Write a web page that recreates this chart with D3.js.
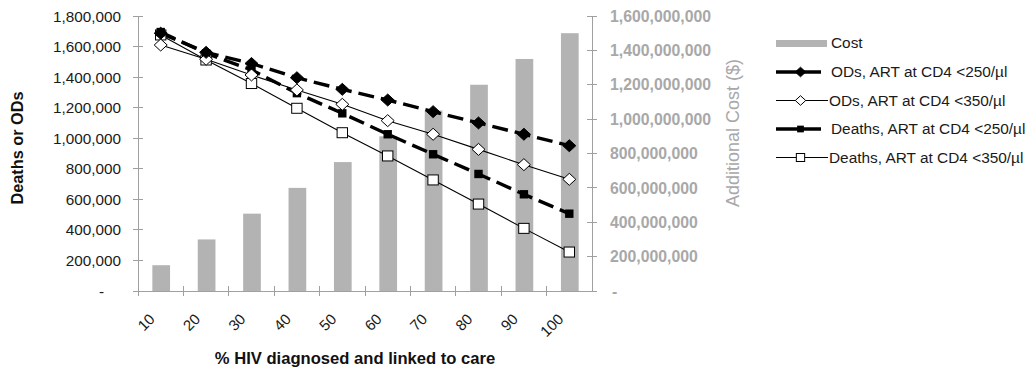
<!DOCTYPE html>
<html>
<head>
<meta charset="utf-8">
<script src="https://cdn.jsdelivr.net/npm/d3@7"></script>
<style>
  html, body { margin: 0; padding: 0; background: #fff; }
  svg { display: block; font-family: "Liberation Sans", Arial, sans-serif; }
</style>
</head>
<body>
<svg id="chart" width="1032" height="376"></svg>
<script>
// ---- data ----
const categories = ["10", "20", "30", "40", "50", "60", "70", "80", "90", "100"];
const costValues = [150e6, 300e6, 450e6, 600e6, 750e6, 900e6, 1050e6, 1200e6, 1350e6, 1500e6];
const odsArt250 = [1687000, 1562000, 1489000, 1396000, 1320000, 1250000, 1174000, 1100000, 1026000, 951000];
const odsArt350 = [1610000, 1517000, 1414000, 1316000, 1222000, 1115000, 1026000, 927000, 827000, 731000];
const deathsArt250 = [1695000, 1556000, 1447000, 1295000, 1163000, 1026000, 895000, 766000, 633000, 506000];
const deathsArt350 = [1676000, 1512000, 1358000, 1196000, 1036000, 884000, 727000, 569000, 410000, 255000];
const leftTicks = [0, 200000, 400000, 600000, 800000, 1000000, 1200000, 1400000, 1600000, 1800000];
const rightTicks = [0, 200e6, 400e6, 600e6, 800e6, 1000e6, 1200e6, 1400e6, 1600e6];
const seriesNames = ["ODs, ART at CD4 <250/\u00b5l", "ODs, ART at CD4 <350/\u00b5l", "Deaths, ART at CD4 <250/\u00b5l", "Deaths, ART at CD4 <350/\u00b5l"];
const costName = "Cost";
const xTitle = "% HIV diagnosed and linked to care";
const yLeftTitle = "Deaths or ODs";
const yRightTitle = "Additional Cost ($)";

// ---- layout ----
const svg = d3.select("#chart");
const X0 = 138, X1 = 592, Y0 = 291, Y1 = 16;
const x = d3.scaleBand().domain(categories).range([X0, X1]).padding(0);
const yL = d3.scaleLinear().domain([0, 1800000]).range([Y0, Y1]);
const yR = d3.scaleLinear().domain([0, 1600e6]).range([Y0, Y1]);
const fmt = d3.format(",");
const axisGray = "#a0a0a0";
const barGray = "#b3b3b3";
const rightGray = "#a8a8a8";

// bars
const barW = x.bandwidth() * 0.39;
svg.append("g").selectAll("rect").data(costValues).join("rect")
  .attr("x", (d, i) => x(categories[i]) + x.bandwidth() / 2 - barW / 2 + 0.5)
  .attr("y", d => yR(d))
  .attr("width", barW)
  .attr("height", d => Y0 - yR(d))
  .attr("fill", barGray);

// axes lines
const ax = svg.append("g").attr("stroke", axisGray).attr("stroke-width", 1).attr("shape-rendering", "crispEdges");
ax.append("line").attr("x1", X0).attr("x2", X0).attr("y1", Y1).attr("y2", Y0);
ax.append("line").attr("x1", X1).attr("x2", X1).attr("y1", Y1).attr("y2", Y0);
ax.append("line").attr("x1", X0).attr("x2", X1).attr("y1", Y0).attr("y2", Y0);
leftTicks.forEach(t => ax.append("line").attr("x1", X0 - 5).attr("x2", X0 + 5).attr("y1", yL(t)).attr("y2", yL(t)));
rightTicks.forEach(t => ax.append("line").attr("x1", X1 - 5).attr("x2", X1 + 5).attr("y1", yR(t)).attr("y2", yR(t)));
categories.forEach(c => ax.append("line").attr("x1", x(c)).attr("x2", x(c)).attr("y1", Y0 - 5).attr("y2", Y0 + 5));

// left tick labels
svg.append("g").selectAll("text").data(leftTicks).join("text")
  .attr("x", d => d === 0 ? 104 : 121)
  .attr("y", d => yL(d))
  .attr("dy", "0.36em")
  .attr("text-anchor", "end")
  .attr("font-size", 15.3)
  .attr("fill", "#1a1a1a")
  .text(d => d === 0 ? "-" : fmt(d));

// right tick labels
svg.append("g").selectAll("text").data(rightTicks).join("text")
  .attr("x", d => d === 0 ? 612 : 610)
  .attr("y", d => yR(d))
  .attr("dy", "0.36em")
  .attr("text-anchor", "start")
  .attr("font-size", 15.8)
  .attr("font-weight", "bold")
  .attr("fill", rightGray)
  .text(d => d === 0 ? "-" : fmt(d));

// x tick labels
svg.append("g").selectAll("text").data(categories).join("text")
  .attr("transform", d => `translate(${x(d) + x.bandwidth() / 2 - 5},320) rotate(-45)`)
  .attr("text-anchor", "end")
  .attr("font-size", 15)
  .attr("fill", "#1a1a1a")
  .text(d => d);

// titles
svg.append("text").attr("x", 355).attr("y", 364).attr("text-anchor", "middle")
  .attr("font-size", 16.6).attr("font-weight", "bold").attr("fill", "#111").text(xTitle);
svg.append("text").attr("transform", "translate(23,148) rotate(-90)").attr("text-anchor", "middle")
  .attr("font-size", 16.3).attr("font-weight", "bold").attr("fill", "#111").text(yLeftTitle);
svg.append("text").attr("transform", "translate(739,133) rotate(-90)").attr("text-anchor", "middle")
  .attr("font-size", 18).attr("fill", rightGray).text(yRightTitle);

// markers
function marker(g, type, cx, cy, s) {
  s = s || 1;
  if (type === "diamond" || type === "odiamond") {
    const hw = 6.5 * s, hh = 6 * s;
    g.append("path").attr("d", `M${cx},${cy - hh}L${cx + hw},${cy}L${cx},${cy + hh}L${cx - hw},${cy}Z`)
      .attr("fill", type === "diamond" ? "#000" : "#fff").attr("stroke", "#000").attr("stroke-width", 1);
  } else if (type === "square") {
    const h = 4.2 * s;
    g.append("rect").attr("x", cx - h).attr("y", cy - h).attr("width", 2 * h).attr("height", 2 * h)
      .attr("fill", "#000");
  } else {
    const hw = 5.2 * s, hh = 5 * s;
    g.append("rect").attr("x", cx - hw).attr("y", cy - hh).attr("width", 2 * hw).attr("height", 2 * hh)
      .attr("fill", "#fff").attr("stroke", "#000").attr("stroke-width", 1);
  }
}

const series = [
  { name: seriesNames[0], values: odsArt250, marker: "diamond", dashed: true },
  { name: seriesNames[1], values: odsArt350, marker: "odiamond", dashed: false },
  { name: seriesNames[2], values: deathsArt250, marker: "square", dashed: true },
  { name: seriesNames[3], values: deathsArt350, marker: "osquare", dashed: false }
];
const line = d3.line().x((d, i) => x(categories[i]) + x.bandwidth() / 2).y(d => yL(d));
const linesG = svg.append("g");
series.slice().reverse().forEach(s => {
  linesG.append("path").attr("d", line(s.values)).attr("fill", "none").attr("stroke", "#000")
    .attr("stroke-width", s.dashed ? 3.4 : 1.1)
    .attr("stroke-dasharray", s.dashed ? "16,7" : null);
});
series.slice().reverse().forEach(s => {
  const g = svg.append("g");
  s.values.forEach((v, i) => marker(g, s.marker, x(categories[i]) + x.bandwidth() / 2, yL(v)));
});

// legend
const lg = svg.append("g");
lg.append("rect").attr("x", 776).attr("y", 40).attr("width", 51).attr("height", 7).attr("fill", barGray);
lg.append("text").attr("x", 831).attr("y", 48).attr("font-size", 15.4).attr("fill", "#1a1a1a").text(costName);
series.forEach((s, i) => {
  const cy = 72 + i * 28.5;
  lg.append("line").attr("x1", 776).attr("x2", s.dashed ? 821 : 828).attr("y1", cy).attr("y2", cy)
    .attr("stroke", "#000").attr("stroke-width", s.dashed ? 3.4 : 1.1);
  marker(lg, s.marker, 800.5, cy, 0.8);
  lg.append("text").attr("x", s.dashed ? 831 : 829).attr("y", cy + 5.3).attr("font-size", 15.4)
    .attr("fill", "#1a1a1a").text(s.name);
});
</script>
</body>
</html>
